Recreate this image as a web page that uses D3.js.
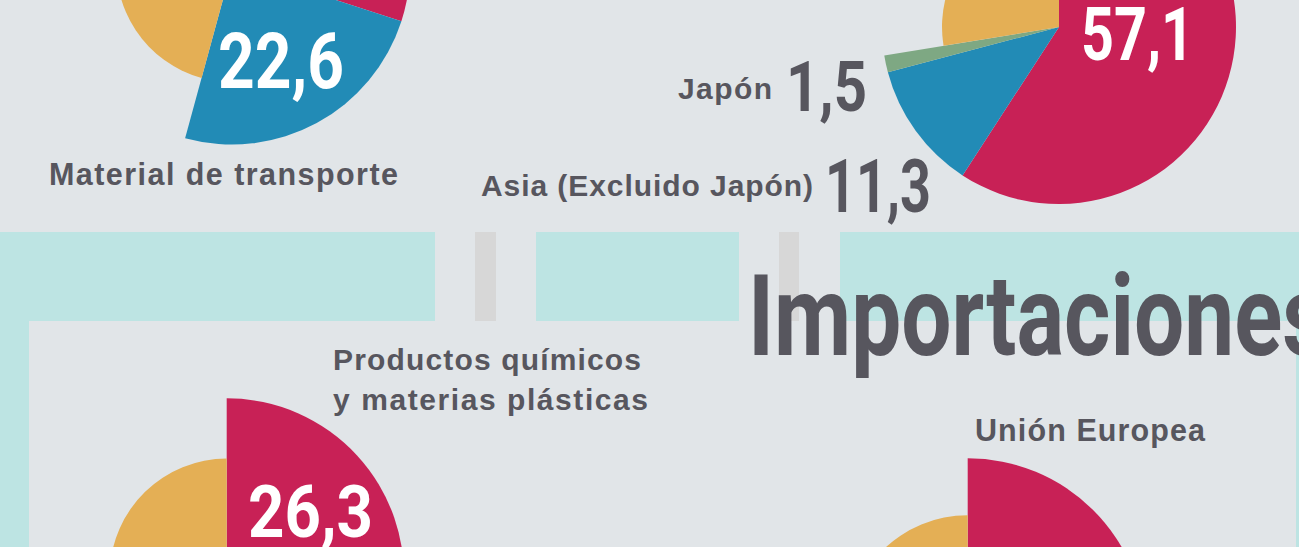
<!DOCTYPE html>
<html>
<head>
<meta charset="utf-8">
<script src="https://cdn.jsdelivr.net/npm/d3@7"></script>
<style>
html,body{margin:0;padding:0;background:#e1e5e8;overflow:hidden}
svg{display:block}
</style>
</head>
<body>
<svg id="chart" width="1299" height="547"></svg>
<script>
// ---------------- DATA ----------------
// Exportaciones por sector (top-left pie, only partly visible)
const exportSectorNames  = ["Otro sector", "Material de transporte", "Resto"];
const exportSectorValues = [27.9, 22.6, 42.6];

// Exportaciones por destino (top-right pie)
const exportOriginNames  = ["Unión Europea", "Asia (Excluido Japón)", "Japón", "Resto"];
const exportOriginValues = [57.1, 11.3, 1.5, 26.6];

// Importaciones por sector (bottom-left pie, only partly visible)
const importSectorNames  = ["Productos químicos y materias plásticas", "Resto"];
const importSectorValues = [26.3, 73.7];

// Importaciones por origen (bottom-right pie, only partly visible)
const importOriginNames  = ["Unión Europea", "Resto"];
const importOriginValues = [50.0, 50.0];

const sliceColorKeys = ["red", "blue", "green", "orange"];
const sliceColorHex  = ["#c82156", "#228bb6", "#7ea883", "#e4af55"];

// ---------------- SETUP ----------------
const svg = d3.select("#chart");
const W = 1299, H = 547;
const DARK = "#57565e";
const color = d3.scaleOrdinal().domain(sliceColorKeys).range(sliceColorHex);

svg.append("rect").attr("width", W).attr("height", H).attr("fill", "#e1e5e8");

// decorative frame (teal band with gaps and grey posts)
const frame = svg.append("g");
const teal = "#bde4e3";
[[0, 435], [536, 739], [840, W]].forEach(([a, b]) =>
  frame.append("rect").attr("x", a).attr("y", 232).attr("width", b - a).attr("height", 89).attr("fill", teal));
[[475, 496], [779, 799]].forEach(([a, b]) =>
  frame.append("rect").attr("x", a).attr("y", 232).attr("width", b - a).attr("height", 89).attr("fill", "#d7d7d7"));
frame.append("rect").attr("x", 0).attr("y", 320).attr("width", 29).attr("height", H - 320).attr("fill", teal);
frame.append("rect").attr("x", 1296).attr("y", 320).attr("width", 3).attr("height", H - 320).attr("fill", teal);

// ---------------- PIES ----------------
const pie = d3.pie().sort(null).value(d => d.value);

function drawPie(names, values, keys, cfg) {
  const data = names.map((n, i) => ({ name: n, value: values[i], key: keys[i] }));
  const arc = d3.arc()
    .innerRadius(0)
    .outerRadius(d => d.data.key === "orange" ? cfg.r : cfg.R);
  svg.append("g")
    .attr("transform", `translate(${cfg.cx},${cfg.cy})`)
    .selectAll("path")
    .data(pie(data))
    .join("path")
    .attr("d", arc)
    .attr("fill", d => color(d.data.key));
}

drawPie(exportSectorNames, exportSectorValues, ["red", "blue", "orange"],
  { cx: 232, cy: -33.5, R: 178, r: 115.5 });
drawPie(exportOriginNames, exportOriginValues, ["red", "blue", "green", "orange"],
  { cx: 1059, cy: 27, R: 177, r: 117 });
drawPie(importSectorNames, importSectorValues, ["red", "orange"],
  { cx: 226.7, cy: 575.6, R: 177.3, r: 117 });
drawPie(importOriginNames, importOriginValues, ["red", "orange"],
  { cx: 967.7, cy: 636.3, R: 178, r: 121 });

// ---------------- TEXT ----------------
const fmt = v => d3.format(".1f")(v).replace(".", ",");

function label(txt, x, y, w, size) {
  svg.append("text").attr("x", x).attr("y", y)
    .attr("font-family", "'Liberation Sans', Arial, Helvetica, sans-serif")
    .attr("font-weight", 700).attr("font-size", size).attr("fill", DARK)
    .attr("textLength", w).attr("lengthAdjust", "spacing")
    .text(txt);
}
function bigNum(txt, x, y, w, size, fill) {
  svg.append("text").attr("x", x).attr("y", y)
    .attr("font-family", "Roboto, 'DejaVu Sans', sans-serif")
    .attr("font-weight", 700).attr("font-size", size).attr("fill", fill)
    .attr("textLength", w).attr("lengthAdjust", "spacingAndGlyphs")
    .text(txt);
}

// top-left
bigNum(fmt(exportSectorValues[1]), 218, 88, 126, 77, "#fff");
label(exportSectorNames[1], 49, 185, 349, 30.5);

// top-right
bigNum(fmt(exportOriginValues[0]), 1081, 60, 113, 74, "#fff");
label(exportOriginNames[2], 678, 99, 94, 30);
bigNum(fmt(exportOriginValues[2]), 786, 111, 81, 70, DARK);
label(exportOriginNames[1], 481, 196, 332, 30);
bigNum(fmt(exportOriginValues[1]), 825, 212, 106, 75, DARK);

// title
bigNum("Importaciones", 748, 355, 580, 114, DARK);

// bottom-left
label("Productos químicos", 333, 369.5, 308, 30);
label("y materias plásticas", 333, 410, 315, 30);
bigNum(fmt(importSectorValues[0]), 248, 537, 125, 72, "#fff");

// bottom-right
label(importOriginNames[0], 975, 441, 230, 30.5);
</script>
</body>
</html>
